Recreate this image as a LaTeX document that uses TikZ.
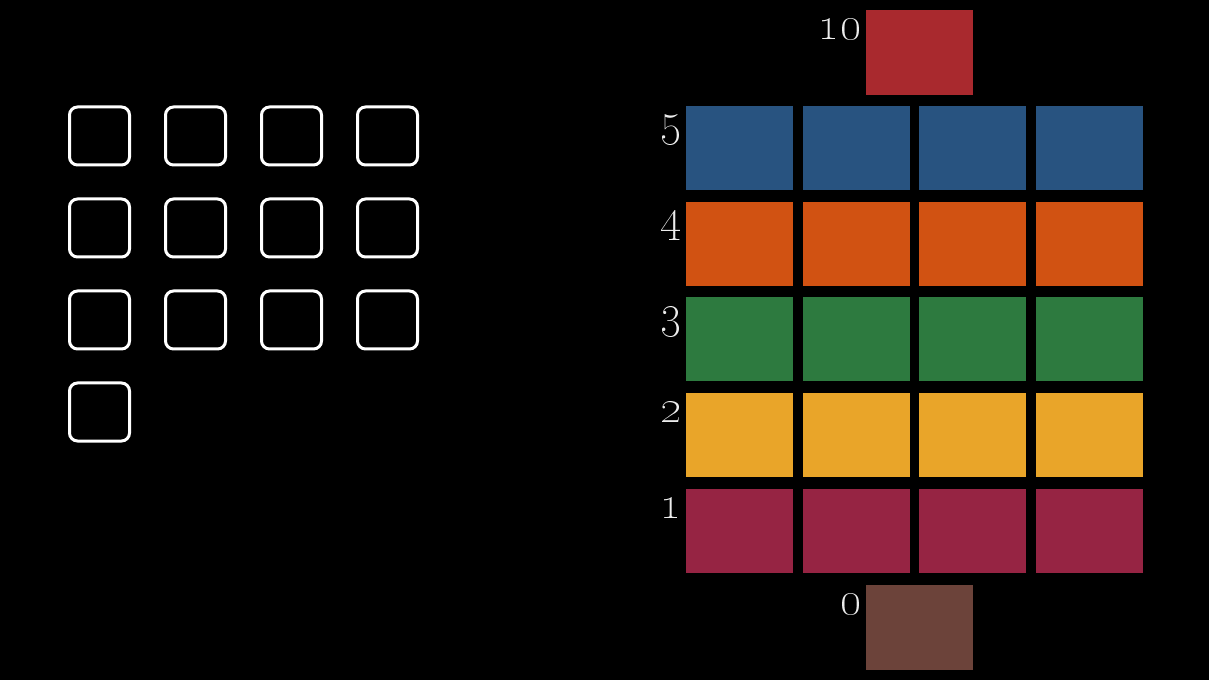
\documentclass[tikz,border=0pt]{standalone}
\usetikzlibrary{positioning}
\definecolor{barred}{HTML}{A9292E}
\definecolor{barblue}{HTML}{285380}
\definecolor{barorange}{HTML}{D15212}
\definecolor{bargreen}{HTML}{2D7A3F}
\definecolor{baryellow}{HTML}{E9A529}
\definecolor{barcrimson}{HTML}{962443}
\definecolor{barbrown}{HTML}{6C433A}
\definecolor{numwhite}{HTML}{EDEDED}

\begin{document}
\begin{tikzpicture}[
        x=0.75pt, y=-0.75pt,
        slot/.style={draw=white, line width=2.25pt, rounded corners=6pt, minimum width=45pt, minimum height=43.5pt, inner sep=0pt},
        cell/.style={rectangle, minimum width=80.25pt, minimum height=63pt, inner sep=0pt},
        lbl/.style={text=numwhite, font=\fontsize{33}{36}\selectfont, inner sep=0pt, anchor=base east}
    ]

    \fill[black] (0,0) rectangle (1209,680);
    \useasboundingbox (0,0) rectangle (1209,680);

    % empty slots on the left
    \foreach \r in {0,1,2}
        \foreach \c in {0,...,3}
            \node[slot] (s\r\c) at (99.5+96*\c, 136+92*\r) {};
    \node[slot] (s30) at (99.5, 412) {};

    % coloured rows
    \foreach \colr [count=\k from 0] in {barblue,barorange,bargreen,baryellow,barcrimson}
        \foreach \c in {0,...,3}
            \node[cell, fill=\colr] (b\k\c) at (739.5+116.7*\c, 148+95.75*\k) {};

    \node[cell, fill=barred, minimum height=63.75pt] (Top) at (919.5, 52.5) {};
    \node[cell, fill=barbrown, minimum height=63.75pt] (Bottom) at (919.5, 627.5) {};

    % numbers
    \node[lbl] (n10) at ([xshift=-3pt, yshift=-22.5pt]Top.north west) {\oldstylenums{10}};
    \node[lbl] (n0) at ([xshift=-3pt, yshift=-22.5pt]Bottom.north west) {\oldstylenums{0}};
    \foreach \v [count=\k from 0] in {5,4,3,2,1}
        \node[lbl] (n\v) at ([xshift=-3pt, yshift=-22.5pt]b\k0.north west) {\oldstylenums{\v}};

\end{tikzpicture}
\end{document}
